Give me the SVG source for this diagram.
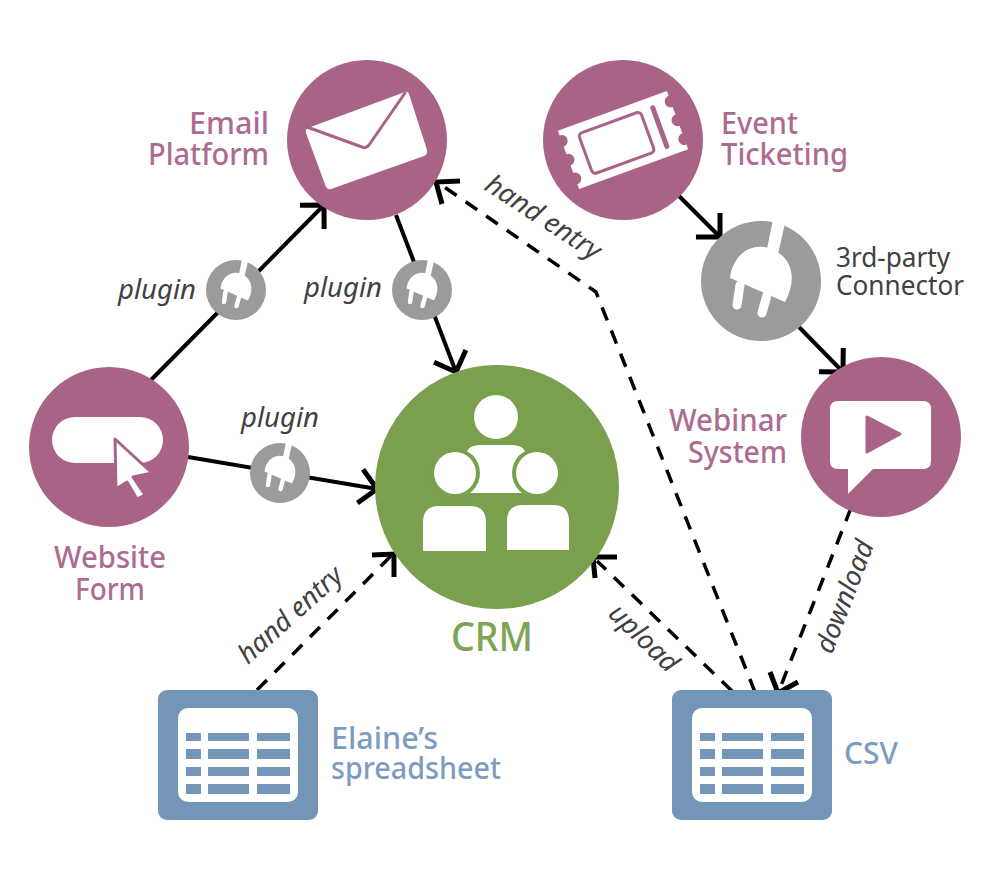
<svg xmlns="http://www.w3.org/2000/svg" xmlns:xlink="http://www.w3.org/1999/xlink" width="1000" height="880" viewBox="0 0 1000 880">
<style>
.pink{fill:#a96387}
.blue{fill:#7295b8}
.white{fill:#fff}
.ink{fill:none;stroke:#a96387;stroke-linejoin:round;stroke-linecap:round}
text{font-family:"Noto Sans","Open Sans","Liberation Sans",sans-serif}
.tp{fill:#ac6c92;font-size:30px;font-weight:500}
.tb{fill:#7c9dbf;font-size:30px;font-weight:500}
.tg{fill:#7da554;font-size:40px;font-weight:500}
.td{fill:#414042;font-size:27px}
.ti{fill:#414042;font-size:27px;font-style:italic}
.solid{fill:none;stroke:#000;stroke-width:4}
.dash{fill:none;stroke:#000;stroke-width:3.5;stroke-dasharray:14 11}
.head{fill:none;stroke:#000;stroke-width:5}
</style>
<defs>
<marker id="arrow" markerUnits="userSpaceOnUse" markerWidth="44" markerHeight="44" refX="22" refY="22" orient="auto" overflow="visible">
<path d="M5,5 L22,22 L5,39" class="head"/>
</marker>
<g id="plug">
<circle r="60" fill="#9b9b9b"/>
<path d="M12,-62 L25,-62 L17,-27 L6,-32 Z" fill="#fff"/>
<path d="M-31,-3 C-29,-20 -18,-33 -4,-34 C10,-36 24,-26 28,-16 C33,-5 31,8 24,21 Z" fill="#fff"/>
<path d="M-21,4 L-24,24 M6,14 L1,32" stroke="#fff" stroke-width="9" stroke-linecap="round" fill="none"/>
</g>
<g id="sheet">
<rect width="160" height="130" rx="9" class="blue"/>
<rect x="20" y="18" width="120" height="94" rx="10" class="white"/>
<g class="blue">
<rect x="28" y="43" width="15" height="8"/><rect x="50" y="43" width="41" height="8"/><rect x="99" y="43" width="33" height="8"/>
<rect x="28" y="59" width="15" height="10"/><rect x="50" y="59" width="41" height="10"/><rect x="99" y="59" width="33" height="10"/>
<rect x="28" y="77" width="15" height="9"/><rect x="50" y="77" width="41" height="9"/><rect x="99" y="77" width="33" height="9"/>
<rect x="28" y="94" width="15" height="10"/><rect x="50" y="94" width="41" height="10"/><rect x="99" y="94" width="33" height="10"/>
</g>
</g>
</defs>

<g id="connectors">
<path class="solid" d="M150,381 L324,205" marker-end="url(#arrow)"/>
<path class="solid" d="M396,215 L456,372" marker-end="url(#arrow)"/>
<path class="solid" d="M188,457 L377,489" marker-end="url(#arrow)"/>
<path class="solid" d="M677,194 L720,237" marker-end="url(#arrow)"/>
<path class="solid" d="M799,327 L843,372" marker-end="url(#arrow)"/>
<g>
<path class="dash" d="M755,692 L596,292 L440,184"/>
<path class="head" d="M460,181 L436,182 L442,204"/>
<path class="dash" d="M732,691 L597,561"/>
<path class="head" d="M617,557 L593,557 L595,578"/>
<path class="dash" d="M851,508 L780,688"/>
<path class="head" d="M770,672 L778,693 L798,682"/>
<path class="dash" d="M257,690 L391,556"/>
<path class="head" d="M372,555 L394,554 L394,577"/>
</g>
</g>

<g id="email-platform">
<circle cx="367" cy="140" r="80" class="pink"/>
<path d="M308,128 L405,92 Q408,91 409,94 L427,150 Q428,154 424,156 L331,189 Q328,190 326,187 L306,133 Q305,129 308,128 Z" class="white"/>
<path d="M307,127 L362,147 Q366,149 369,145 L405,93" class="ink" stroke-width="3"/>
<text class="tp" x="269" y="134" text-anchor="end" textLength="80" lengthAdjust="spacingAndGlyphs">Email</text>
<text class="tp" x="269" y="165" text-anchor="end" textLength="121" lengthAdjust="spacingAndGlyphs">Platform</text>
</g>

<g id="event-ticketing">
<circle cx="623" cy="140" r="80" class="pink"/>
<g transform="translate(623,140) rotate(-20)">
<path d="M-58,-31 H58 V-26 a6,6 0 0 0 0,12 V-6 a6,6 0 0 0 0,12 V14 a6,6 0 0 0 0,12 V31 H-58 V26 a6,6 0 0 0 0,-12 V6 a6,6 0 0 0 0,-12 V-14 a6,6 0 0 0 0,-12 Z" class="white"/>
<rect x="-40" y="-21" width="66" height="43" rx="4" class="ink" stroke-width="3"/>
<path d="M39,-20 V21" class="ink" stroke-width="5"/>
</g>
<text class="tp" x="721" y="134" textLength="77" lengthAdjust="spacingAndGlyphs">Event</text>
<text class="tp" x="721" y="165" textLength="127" lengthAdjust="spacingAndGlyphs">Ticketing</text>
</g>

<g id="third-party-connector">
<use href="#plug" xlink:href="#plug" x="761" y="281"/>
<text class="td" x="836" y="267" textLength="114" lengthAdjust="spacingAndGlyphs">3rd-party</text>
<text class="td" x="836" y="295" textLength="128" lengthAdjust="spacingAndGlyphs">Connector</text>
</g>

<g id="webinar-system">
<circle cx="881" cy="437" r="80" class="pink"/>
<path d="M838,401 H923 Q931,401 931,409 V461 Q931,469 923,469 H873 L848,494 V469 H838 Q830,469 830,461 V409 Q830,401 838,401 Z" class="white"/>
<path d="M867,417 L900,434 L867,452 Z" class="pink" stroke="#a96387" stroke-width="3" stroke-linejoin="round"/>
<text class="tp" x="787" y="431" text-anchor="end" textLength="118" lengthAdjust="spacingAndGlyphs">Webinar</text>
<text class="tp" x="787" y="463" text-anchor="end" textLength="99" lengthAdjust="spacingAndGlyphs">System</text>
</g>

<g id="website-form">
<circle cx="109" cy="447" r="80" class="pink"/>
<rect x="52" y="417" width="111" height="46" rx="23" class="white"/>
<path d="M115,439 L152,473 L133,477 L145,495 L137,499 L127,482 L116,489 Z" class="white" stroke="#a96387" stroke-width="3" stroke-linejoin="round"/>
<text class="tp" x="54" y="568" textLength="112" lengthAdjust="spacingAndGlyphs">Website</text>
<text class="tp" x="75" y="600" textLength="70" lengthAdjust="spacingAndGlyphs">Form</text>
</g>

<g id="crm">
<circle cx="497" cy="487" r="122" fill="#7a9f4d"/>
<circle cx="496" cy="417" r="22" class="white"/>
<path d="M465,493 V460 Q465,445 480,445 H512 Q527,445 527,460 V493 Z" class="white"/>
<circle cx="455" cy="473" r="25" fill="#7a9f4d"/>
<circle cx="537" cy="473" r="25" fill="#7a9f4d"/>
<circle cx="455" cy="473" r="21" class="white"/>
<circle cx="537" cy="473" r="21" class="white"/>
<path d="M423,551 V522 Q423,506 439,506 H470 Q486,506 486,522 V551 Z" class="white"/>
<path d="M507,550 V521 Q507,505 523,505 H553 Q569,505 569,521 V550 Z" class="white"/>
<text class="tg" x="451" y="651" textLength="82" lengthAdjust="spacingAndGlyphs">CRM</text>
</g>

<g id="plugin-left">
<use href="#plug" xlink:href="#plug" transform="translate(236,290) scale(0.5)"/>
<text class="ti" x="118" y="299" textLength="78" lengthAdjust="spacingAndGlyphs">plugin</text>
</g>
<g id="plugin-middle">
<use href="#plug" xlink:href="#plug" transform="translate(422,290) scale(0.5)"/>
<text class="ti" x="304" y="297" textLength="78" lengthAdjust="spacingAndGlyphs">plugin</text>
</g>
<g id="plugin-bottom">
<use href="#plug" xlink:href="#plug" transform="translate(280,473) scale(0.5)"/>
<text class="ti" x="241" y="427" textLength="78" lengthAdjust="spacingAndGlyphs">plugin</text>
</g>

<g id="elaines-spreadsheet">
<use href="#sheet" xlink:href="#sheet" x="158" y="690"/>
<text class="tb" x="331" y="749" textLength="107" lengthAdjust="spacingAndGlyphs">Elaine’s</text>
<text class="tb" x="331" y="779" textLength="170" lengthAdjust="spacingAndGlyphs">spreadsheet</text>
</g>

<g id="csv">
<use href="#sheet" xlink:href="#sheet" x="672" y="690"/>
<text class="tb" x="844" y="764" textLength="54" lengthAdjust="spacingAndGlyphs">CSV</text>
</g>

<g id="edge-labels">
<text class="ti" transform="translate(483,189) rotate(33)" textLength="132" lengthAdjust="spacingAndGlyphs">hand entry</text>
<text class="ti" transform="translate(248,665) rotate(-42)" textLength="130" lengthAdjust="spacingAndGlyphs">hand entry</text>
<text class="ti" transform="translate(607,615) rotate(44)" textLength="85" lengthAdjust="spacingAndGlyphs">upload</text>
<text class="ti" transform="translate(832,655) rotate(-69)" textLength="118" lengthAdjust="spacingAndGlyphs">download</text>
</g>
</svg>
